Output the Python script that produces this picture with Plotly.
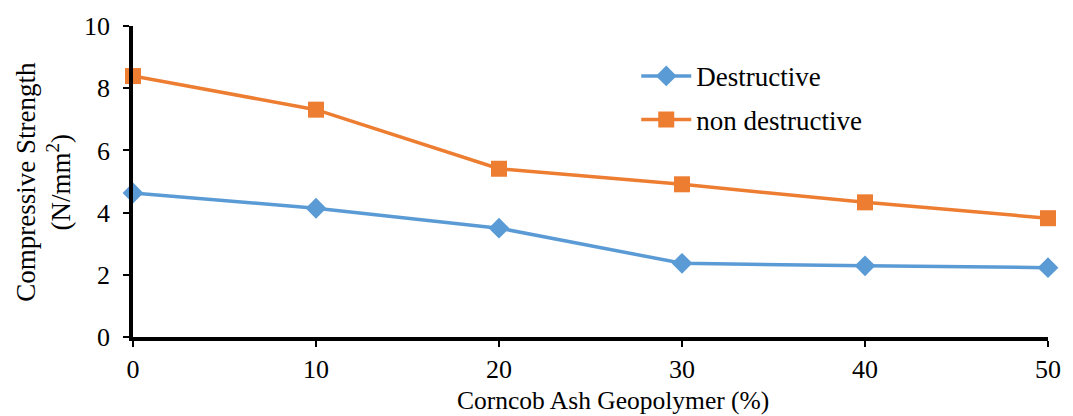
import plotly.graph_objects as go

x_vals = [0, 10, 20, 30, 40, 50]
destructive = [4.63, 4.14, 3.50, 2.37, 2.29, 2.23]
non_destructive = [8.39, 7.31, 5.41, 4.91, 4.33, 3.82]
x_ticks = [0, 10, 20, 30, 40, 50]
y_ticks = [0, 2, 4, 6, 8, 10]

FONT = "Liberation Serif"

fig = go.Figure()
fig.add_trace(go.Scatter(
    x=x_vals, y=destructive, name="Destructive", mode="lines+markers",
    line=dict(color="#5B9BD5", width=3.5),
    marker=dict(symbol="diamond", size=16, color="#5B9BD5"),
    cliponaxis=False, legend="legend", showlegend=True,
))
fig.add_trace(go.Scatter(
    x=x_vals, y=non_destructive, name="non destructive", mode="lines+markers",
    line=dict(color="#ED7D31", width=3.5),
    marker=dict(symbol="square", size=16, color="#ED7D31"),
    cliponaxis=False, legend="legend2", showlegend=True,
))

leg_common = dict(xanchor="left", yanchor="middle", bgcolor="rgba(0,0,0,0)",
                  font=dict(family=FONT, size=27, color="black"), itemwidth=50,
                  visible=True)

fig.update_layout(
    width=1073, height=416,
    margin=dict(l=133, r=20, t=22, b=79),
    paper_bgcolor="white", plot_bgcolor="white",
    font=dict(family=FONT, size=26, color="black"),
    showlegend=True,
    legend=dict(x=0.550, y=0.838, **leg_common),
    legend2=dict(x=0.550, y=0.698, **leg_common),
    xaxis=dict(range=[0, 50], tickvals=x_ticks, showgrid=False, zeroline=False,
               showline=True, linecolor="black", linewidth=3.5,
               ticks="outside", ticklen=6, tickwidth=2, tickcolor="black",
               tickfont=dict(family=FONT, size=26)),
    yaxis=dict(range=[0, 10], tickvals=y_ticks, showgrid=False, zeroline=False,
               showline=True, linecolor="black", linewidth=3.5,
               ticks="outside", ticklen=6, tickwidth=2, tickcolor="black",
               ticklabelstandoff=8,
               tickfont=dict(family=FONT, size=26)),
    annotations=[
        dict(text="Corncob Ash Geopolymer (%)", xref="paper", yref="paper",
             x=0.525, y=-0.205, xanchor="center", yanchor="middle", showarrow=False,
             font=dict(family=FONT, size=25.5)),
        dict(text="Compressive Strength<br>(N/mm<sup>2</sup>)", xref="paper", yref="paper",
             x=-0.098, y=0.5, xanchor="center", yanchor="middle", showarrow=False,
             textangle=-90, font=dict(family=FONT, size=27)),
    ],
)

fig.write_html("out.html")
